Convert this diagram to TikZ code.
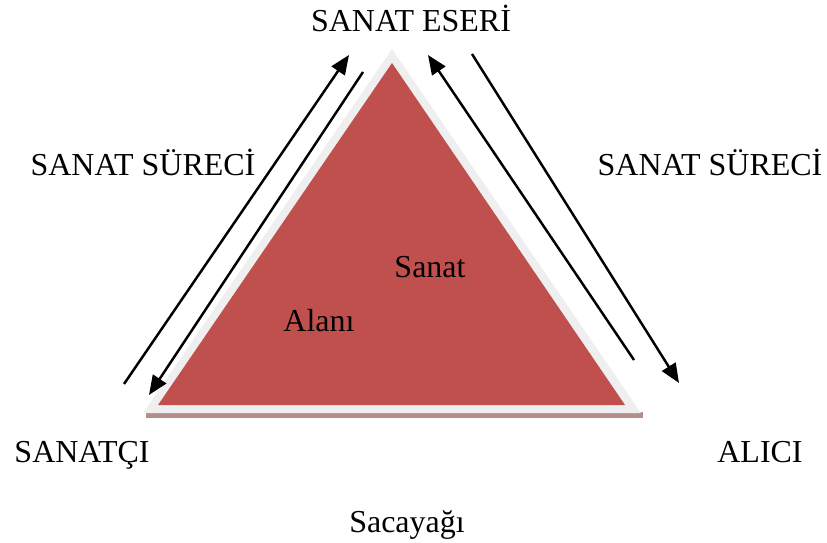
\documentclass[tikz,border=0pt]{standalone}
\usepackage{fontspec}
\setmainfont{Liberation Serif}
\usetikzlibrary{arrows.meta}

\definecolor{sanatred}{HTML}{C0504D}
\definecolor{edgegray}{HTML}{EFEFEF}
\definecolor{shadowred}{HTML}{B48E8C}

\begin{document}
\begin{tikzpicture}[x=0.02cm,y=-0.02cm,
	lbl/.style={anchor=base,inner sep=0pt,font=\fontsize{18.2}{20}\selectfont},
	flow/.style={line width=1.4pt,-{Triangle[length=11pt,width=9pt]}}]
	\useasboundingbox (0,0) rectangle (827,543);
	% triangle
	\fill[shadowred] (146,412) -- (643,412) -- (643,418) -- (146,418) -- cycle;
	\fill[edgegray] (392,49) -- (641,413) -- (143,413) -- cycle;
	\fill[sanatred] (392,63) -- (625,405) -- (158,405) -- cycle;
	% labels
	\node[lbl] (eseri) at (411,32) {SANAT ESERİ};
	\node[lbl] (surecL) at (143,176) {SANAT SÜRECİ};
	\node[lbl] (surecR) at (710,176) {SANAT SÜRECİ};
	\node[lbl] (sanatci) at (82,462) {SANATÇI};
	\node[lbl] (alici) at (760,462) {ALICI};
	\node[lbl] (sacayagi) at (407,532) {Sacayağı};
	\node[lbl] (sanat) at (430,278) {Sanat};
	\node[lbl] (alani) at (319,332) {Alanı};
	% arrows
	\coordinate (l1a) at (124,384);
	\coordinate (l1b) at (349,55);
	\coordinate (l2a) at (363,72);
	\coordinate (l2b) at (149,395);
	\coordinate (r1a) at (634,360);
	\coordinate (r1b) at (428,55);
	\coordinate (r2a) at (472,54);
	\coordinate (r2b) at (679,383);
	\draw[flow] (l1a) -- (l1b);
	\draw[flow] (l2a) -- (l2b);
	\draw[flow] (r1a) -- (r1b);
	\draw[flow] (r2a) -- (r2b);
\end{tikzpicture}
\end{document}
